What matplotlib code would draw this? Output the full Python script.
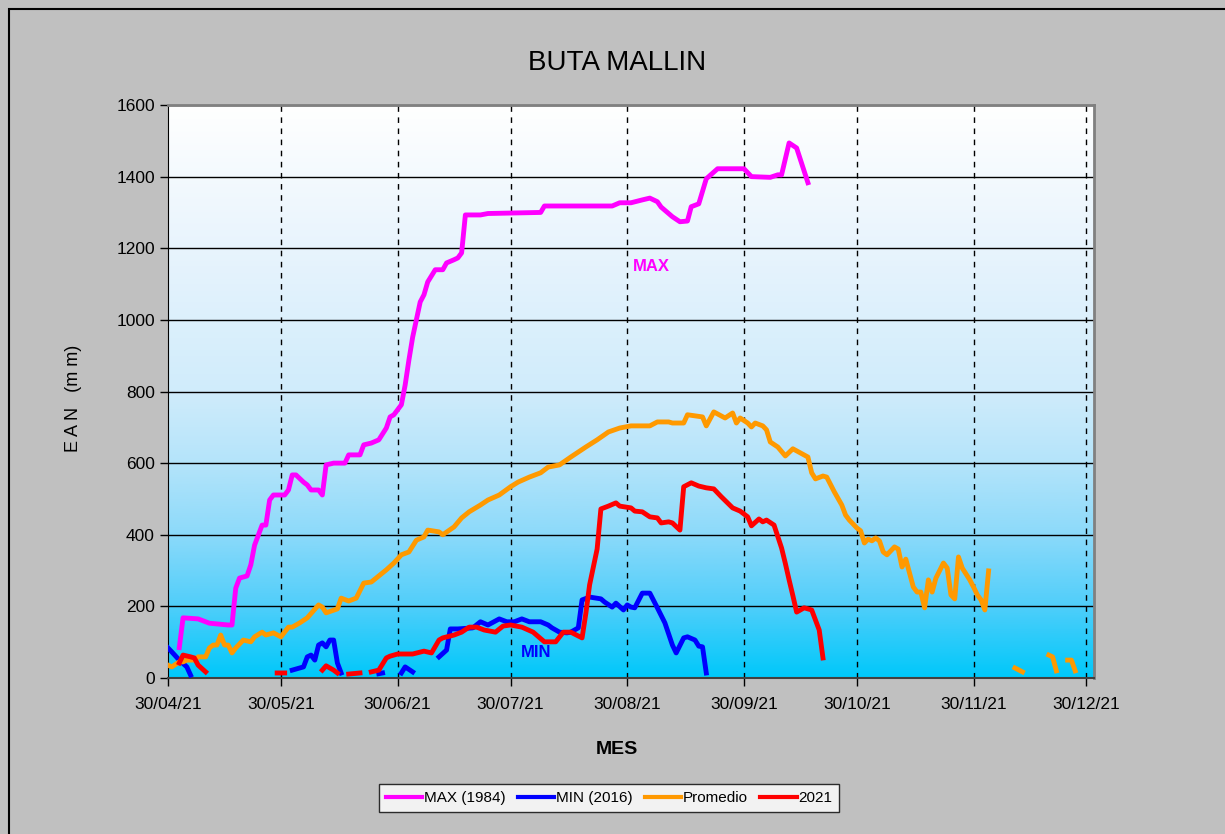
import numpy as np
import pandas as pd
import matplotlib
matplotlib.use("Agg")
import matplotlib.pyplot as plt
from matplotlib.colors import LinearSegmentedColormap
from matplotlib.patches import Rectangle

plt.rcParams['font.family'] = ['Liberation Sans', 'DejaVu Sans']

start = pd.Timestamp("2021-04-30")

# days after 30/04/21 ; None = gap in the series
max_days = [3, 4, 8, 11, 16, 17, 18, 19, 21, 22, 23, 25, 26, 27, 28, 31, 32, 33, 34, 36, 37, 38, 40, 41,
            42, 44, 47, 48, 51, 52, 54, 56, 58, 59, 60, 62, 63, 64, 65, 67, 68, 69, 70, 71, 73, 74, 76, 77,
            78, 79, 83, 85, 99, 100, 109, 118, 120, 123, 126, 128, 130, 131, 134, 136, 138, 139, 141, 143,
            146, 153, 155, 160, 162, 163, 165, 167, 170]
max_vals = [85, 168, 165, 153, 148, 148, 251, 279, 285, 316, 371, 427, 427, 497, 511, 511, 525, 567, 567, 547,
            539, 525, 525, 511, 595, 600, 600, 623, 623, 651, 656, 665, 698, 729, 735, 763, 818, 888, 952,
            1050, 1070, 1106, 1123, 1140, 1140, 1159, 1168, 1173, 1187, 1293, 1293, 1297, 1300, 1318, 1318,
            1318, 1327, 1327, 1335, 1340, 1330, 1315, 1288, 1274, 1276, 1316, 1324, 1394, 1422, 1422, 1400,
            1398, 1405, 1405, 1494, 1480, 1383]

min_days = [0, 1, 3, 5, 6, 20,
            33, 36, 37, 38, 39, 40, 41, 42, 43, 44, 45, 46, 50,
            56, 57, 60,
            62, 63, 65, 68,
            72, 74, 75, 77, 81, 83, 85, 88, 90, 92, 94, 96, 97, 99, 101, 102, 104, 106, 107, 109, 110,
            112, 115, 116, 118, 119, 121, 122, 123, 124, 126, 128, 130, 132, 134, 135, 137, 138, 140, 141,
            142, 143]
min_vals = [84, 73, 50, 31, 8, None,
            22, 31, 59, 64, 50, 92, 98, 87, 106, 106, 42, 14, None,
            12, 14, None,
            14, 31, 17, None,
            59, 78, 137, 137, 140, 157, 148, 165, 157, 157, 165, 157, 157, 157, 148, 140, 128, 126, 128,
            140, 218, 226, 221, 212, 198, 209, 190, 204, 198, 196, 237, 237, 196, 154, 92, 70, 112, 115,
            106, 89, 87, 14]

prom_days = [0, 1, 3, 4, 5, 7, 8, 10, 11, 12, 13, 14, 15, 16, 17, 18, 20, 22, 23, 25, 26, 28, 30, 32, 33,
             35, 37, 40, 41, 42, 45, 46, 48, 50, 52, 54, 56, 58, 60, 62, 64, 66, 68, 69, 72, 73, 76, 78,
             80, 83, 85, 88, 91, 93, 96, 99, 101, 104, 107, 111, 114, 117, 120, 123, 128, 130, 133, 134,
             137, 138, 142, 143, 145, 148, 150, 151, 152, 154, 155, 156, 158, 159, 160, 162, 164, 166, 169,
             170, 171, 172, 174, 175, 177, 179, 180, 181, 183, 184, 185, 186, 187, 188, 189, 190, 191, 193,
             194, 195, 196, 198, 199, 200, 201, 202, 203, 204, 206, 207, 208, 209, 210, 211, 213, 214, 215,
             216, 217, 218, 222,
             225, 227, 230,
             234, 235, 236, 237,
             239, 240, 241]
prom_vals = [36, 31, 45, 45, 50, 50, 59, 59, 84, 92, 92, 120, 92, 92, 70, 84, 106, 101, 115, 128, 120, 126,
             115, 142, 142, 154, 168, 204, 198, 182, 193, 223, 215, 223, 265, 268, 285, 302, 321, 344, 352,
             385, 394, 413, 408, 400, 422, 447, 464, 483, 497, 511, 534, 547, 561, 573, 589, 595, 617, 645,
             665, 687, 698, 704, 704, 715, 715, 712, 712, 735, 729, 704, 743, 726, 740, 712, 726, 712, 701,
             712, 704, 693, 659, 645, 620, 640, 623, 617, 573, 556, 564, 561, 520, 483, 455, 441, 419, 411,
             377, 388, 383, 391, 383, 352, 344, 366, 360, 310, 332, 254, 240, 240, 196, 274, 240, 279, 321,
             307, 232, 221, 338, 307, 274, 254, 232, 218, 190, 299, None,
             28, 17, None,
             64, 59, 20, None,
             50, 50, 20]

r21_days = [3, 4, 6, 7, 8, 10, 20,
            29, 31, 36,
            41, 42, 44, 45, 46,
            48, 51, 52,
            54, 56, 58, 59, 61, 65, 68, 70, 72, 73, 76, 78, 80, 82, 84, 87, 89, 91, 94, 97, 100, 103, 105,
            107, 110, 111, 112, 113, 114, 115, 117, 119, 120, 123, 124, 126, 128, 130, 131, 133, 134, 136,
            137, 139, 141, 143, 145, 147, 150, 152, 154, 155, 157, 158, 159, 161, 163, 164, 165, 166, 167,
            169, 171, 173, 174]
r21_vals = [42, 64, 59, 56, 36, 17, None,
            14, 14, None,
            22, 34, 22, 14, None,
            11, 14, None,
            17, 22, 56, 61, 67, 67, 75, 70, 106, 112, 120, 128, 142, 142, 134, 128, 145, 148, 142, 128, 101,
            101, 128, 128, 112, 180, 260, 310, 360, 472, 480, 489, 480, 475, 466, 464, 450, 447, 433, 436,
            433, 413, 534, 545, 536, 531, 528, 506, 475, 466, 450, 425, 444, 436, 441, 427, 363, 320, 274,
            230, 184, 196, 190, 134, 56]

tick_dates = ["2021-04-30", "2021-05-30", "2021-06-30", "2021-07-30", "2021-08-30",
              "2021-09-30", "2021-10-30", "2021-11-30", "2021-12-30"]


def series(days, vals):
    d = start + pd.to_timedelta(days, unit="D")
    v = np.array([np.nan if x is None else x for x in vals], dtype=float)
    return d, v


fig = plt.figure(figsize=(12.25, 8.34), dpi=100, facecolor="#c0c0c0")
fig.patches.append(Rectangle((9 / 1225, -0.1), 1.2, 1.1 - 9 / 834, transform=fig.transFigure,
                             fill=False, edgecolor="black", lw=1.5))
ax = fig.add_axes([168 / 1225, 156 / 834, 926 / 1225, 573 / 834])

# background gradient: cyan at the bottom, white at the top (not linear)
cmap = LinearSegmentedColormap.from_list(
    "bg", [(0.0, "#00c8fa"), (0.125, "#50cefa"), (0.25, "#8cdafa"), (0.375, "#b4e4fa"),
           (0.5, "#d0ecfb"), (0.75, "#e8f4fd"), (1.0, "#ffffff")])
grad = np.linspace(0, 1, 256).reshape(-1, 1)
ax.imshow(grad, cmap=cmap, aspect="auto", extent=[0, 1, 0, 1], transform=ax.transAxes,
          origin="lower", zorder=0)

ax.set_ylim(0, 1600)
ax.set_yticks(range(0, 1601, 200))
ax.set_xlim(start, pd.Timestamp("2022-01-01"))
ticks = pd.to_datetime(tick_dates)
ax.set_xticks(ticks)
ax.set_xticklabels([t.strftime("%d/%m/%y") for t in ticks])
for y in range(200, 1601, 200):
    ax.axhline(y, color="black", lw=1, zorder=1)
for t in ticks[1:]:
    ax.axvline(t, color="black", lw=1, ls=(0, (4, 4)), zorder=1)

ax.plot(*series(max_days, max_vals), color="#ff00ff", lw=3.5, label="MAX (1984)", zorder=3)
ax.plot(*series(min_days, min_vals), color="#0000ff", lw=3.5, label="MIN (2016)", zorder=3)
ax.plot(*series(prom_days, prom_vals), color="#ff9900", lw=3.5, label="Promedio", zorder=3)
ax.plot(*series(r21_days, r21_vals), color="#ff0000", lw=3.5, label="2021", zorder=4)

ax.text(start + pd.Timedelta(days=128.5), 1150, "MAX", color="#ff00ff", fontsize=12,
        fontweight="bold", ha="center", va="center")
ax.text(start + pd.Timedelta(days=97.8), 72, "MIN", color="#0000ff", fontsize=12,
        fontweight="bold", ha="center", va="center")

for s in ["top", "right"]:
    ax.spines[s].set_color("#808080")
    ax.spines[s].set_linewidth(2)
ax.spines["left"].set_color("black")
ax.spines["bottom"].set_color("#404040")
ax.spines["bottom"].set_linewidth(1.5)
ax.tick_params(direction="out", length=6, width=1, labelsize=12.5, colors="black")
ax.tick_params(axis="x", pad=8)

fig.text(617 / 1225, 1 - 63 / 834, "BUTA MALLIN", fontsize=20, ha="center", va="center")
fig.text(617 / 1225, 1 - 750 / 834, "MES", fontsize=14, fontweight="bold", ha="center", va="center")
fig.text(73 / 1225, 1 - 398 / 834, "E A N   (m m)", fontsize=13, rotation=90, ha="center", va="center")

leg = fig.legend(loc="center", bbox_to_anchor=(609 / 1225, 1 - 798 / 834), ncol=4, fontsize=11,
                 frameon=True, fancybox=False, edgecolor="black", handlelength=2.4, handletextpad=0.1,
                 columnspacing=0.8, borderpad=0.45)
leg.get_frame().set_linewidth(1)
for h in leg.legend_handles:
    h.set_linewidth(3)

fig.savefig("out.png", dpi=100, facecolor=fig.get_facecolor())
